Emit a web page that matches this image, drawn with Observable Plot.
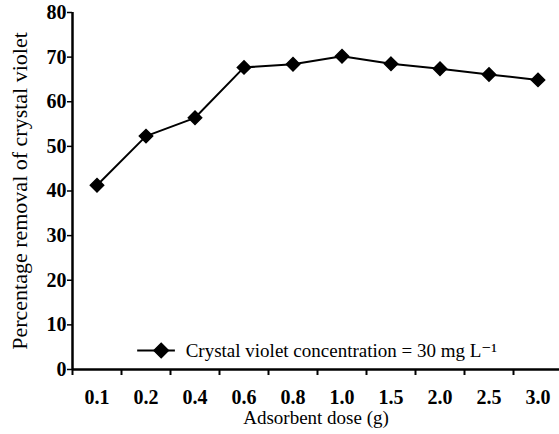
<!DOCTYPE html>
<html>
<head>
<meta charset="utf-8">
<script src="https://cdn.jsdelivr.net/npm/d3@7"></script>
<script src="https://cdn.jsdelivr.net/npm/@observablehq/plot@0.6"></script>
<style>
  html, body { margin: 0; padding: 0; background: #fff; }
  svg, svg text { font-family: "Liberation Serif", "DejaVu Serif", serif !important; }
</style>
</head>
<body>
<div id="chart"></div>
<script>
const doses = ["0.1", "0.2", "0.4", "0.6", "0.8", "1.0", "1.5", "2.0", "2.5", "3.0"];
const removal = [41.3, 52.3, 56.4, 67.7, 68.4, 70.2, 68.5, 67.4, 66.1, 64.9];
const yTicks = [0, 10, 20, 30, 40, 50, 60, 70, 80];
const xTitle = "Adsorbent dose (g)";
const yTitle = "Percentage removal of crystal violet";
const legendLabel = "Crystal violet concentration = 30 mg L\u207B\u00B9";

const data = doses.map((d, i) => ({dose: d, idx: i + 0.5, value: removal[i]}));
const font = "'Liberation Serif', serif";

const chart = Plot.plot({
  width: 559,
  height: 434,
  marginTop: 12,
  marginBottom: 65,
  marginLeft: 72,
  marginRight: 0,
  style: {fontFamily: font, background: "#fff", color: "#000"},
  x: {type: "linear", domain: [0, 10], range: [72, 562]},
  y: {domain: [0, 80]},
  marks: [
    Plot.axisY({ticks: yTicks, tickSize: 5, tickPadding: 1, fontSize: 20, fontWeight: "bold", fontFamily: font, strokeWidth: 1.5, label: null}),
    Plot.axisX({ticks: d3.range(0, 11), tickSize: 6, tickFormat: () => "", strokeWidth: 2, label: null}),
    Plot.axisX({ticks: doses.map((d, i) => i + 0.5), tickSize: 0, tickPadding: 20, tickFormat: d => doses[Math.floor(d)], fontSize: 20, fontWeight: "bold", fontFamily: font, label: null}),
    Plot.ruleY([0], {x1: 0, x2: 10, strokeWidth: 2.5}),
    Plot.ruleX([0], {y1: 0, y2: 80, strokeWidth: 2.5}),
    Plot.line(data, {x: "idx", y: "value", stroke: "#000", strokeWidth: 2}),
    Plot.dot(data, {x: "idx", y: "value", symbol: "diamond2", r: 6, fill: "#000", stroke: "#000"}),
    // legend
    Plot.ruleY([4.25], {x1: 1.33, x2: 2.1, stroke: "#000", strokeWidth: 2}),
    Plot.dot([{x: 1.81, y: 4.25}], {x: "x", y: "y", symbol: "diamond2", r: 6.5, fill: "#000", stroke: "#000"}),
    Plot.text([legendLabel], {x: 2.31, y: 4.25, textAnchor: "start", fontSize: 19, fontFamily: font, fill: "#000"}),
    // titles
    Plot.text([xTitle], {frameAnchor: "bottom", textAnchor: "middle", dy: 54, fontSize: 19, fontFamily: font, fill: "#000"}),
    Plot.text([yTitle], {frameAnchor: "left", textAnchor: "middle", dx: -53, rotate: -90, fontSize: 22, fontFamily: font, fill: "#000"})
  ]
});
document.getElementById("chart").appendChild(chart);
</script>
</body>
</html>
